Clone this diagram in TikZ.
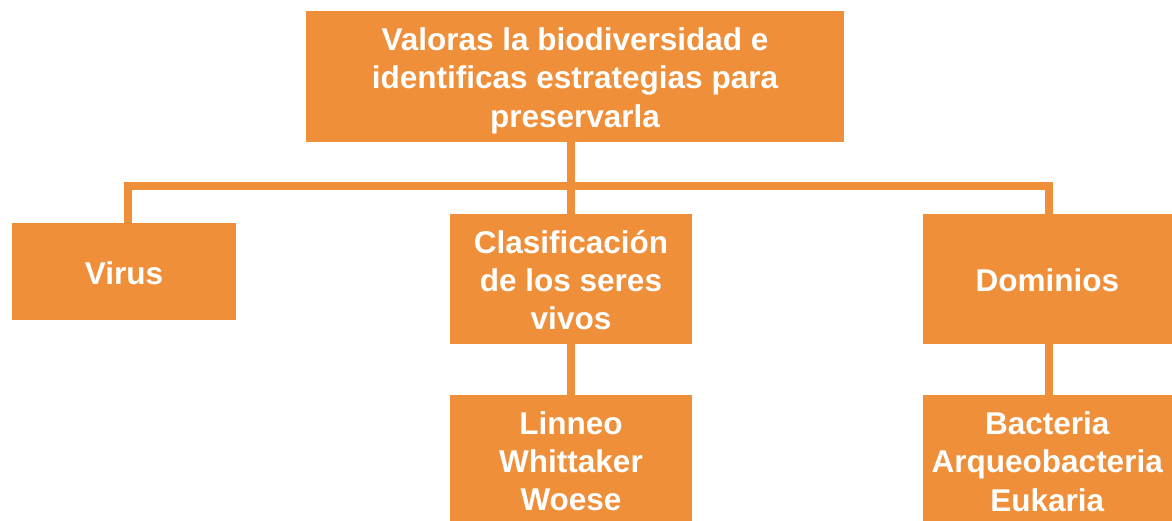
\documentclass[tikz,border=0pt]{standalone}
\usepackage{fontspec}
\setmainfont{Liberation Sans}
\definecolor{orng}{RGB}{239,143,57}
\newcommand\mystrut{\rule[-5.7pt]{0pt}{37.2pt}}
\begin{document}
\begin{tikzpicture}[x=1pt,y=-1pt,
  box/.style={fill=orng, draw=none, inner sep=0pt, align=center, text=white,
    font=\fontsize{31.5}{38}\selectfont\bfseries},
  conn/.style={draw=orng, line width=8pt, line join=miter}]
\useasboundingbox (0,0) rectangle (1172,520);
\node[box, minimum width=538pt, minimum height=130.5pt] (top) at (575,76.25)
  {\mystrut Valoras la biodiversidad e\\identificas estrategias para\\\mystrut preservarla};
\node[box, minimum width=224pt, minimum height=96.5pt] (virus) at (124,271.25) {\mystrut Virus};
\node[box, minimum width=242pt, minimum height=129.5pt] (clas) at (571,278.75)
  {\mystrut Clasificación\\de los seres\\\mystrut vivos};
\node[box, minimum width=249.5pt, minimum height=129.5pt] (dom) at (1047.25,278.75) {\mystrut Dominios};
\node[box, minimum width=242pt, minimum height=129.5pt] (lin) at (571,459.75)
  {\mystrut Linneo\\Whittaker\\\mystrut Woese};
\node[box, minimum width=249.5pt, minimum height=129.5pt] (bac) at (1047.25,459.75)
  {\mystrut Bacteria\\Arqueobacteria\\\mystrut Eukaria};
\coordinate (bar) at (0,186);
\draw[conn] ([xshift=4pt]virus.north) -- ([xshift=4pt]virus.north |- bar)
  -- ([xshift=2pt]dom.north |- bar) -- ([xshift=2pt]dom.north);
\draw[conn] (clas.north) -- (clas.north |- top.south);
\draw[conn] (clas.south) -- (lin.north);
\draw[conn] ([xshift=2pt]dom.south) -- ([xshift=2pt]bac.north);
\end{tikzpicture}
\end{document}
